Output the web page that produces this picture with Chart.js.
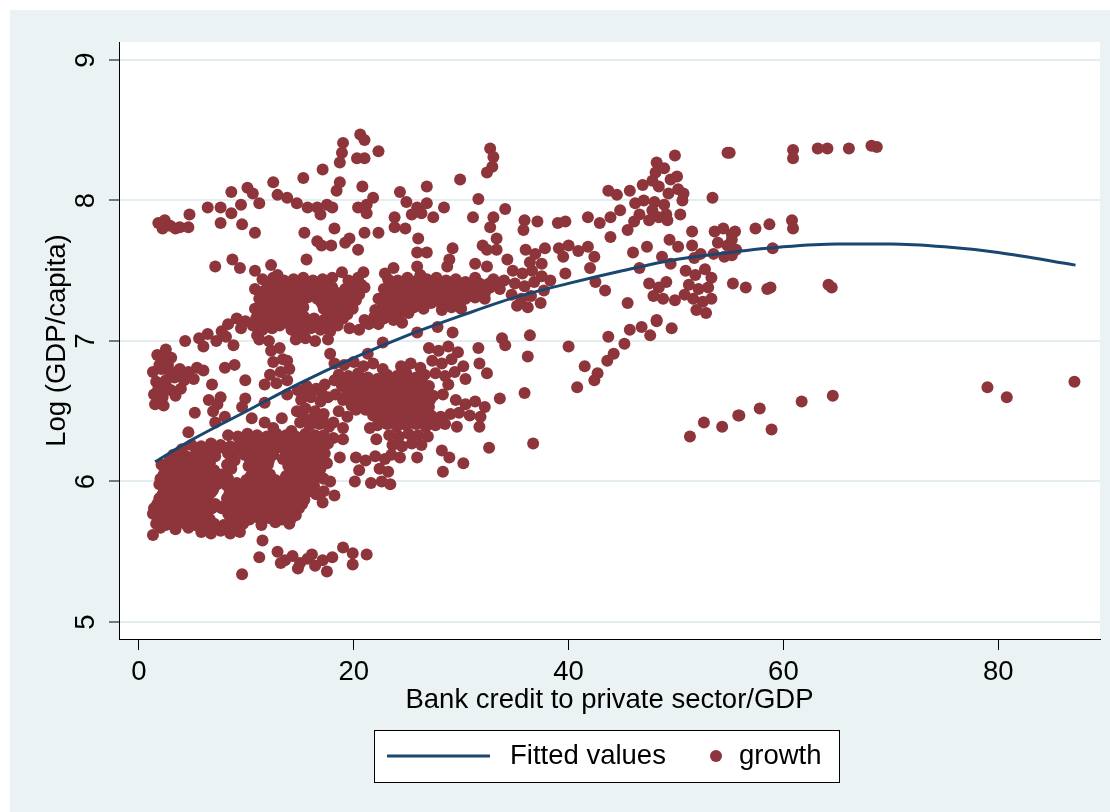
<!DOCTYPE html>
<html lang="en">
<head>
<meta charset="UTF-8">
<title>Log GDP per capita and bank credit</title>
<script src="https://cdn.jsdelivr.net/npm/chart.js"></script>
<style>
  html, body { margin: 0; padding: 0; background: #fff; }
  #frame { position: absolute; left: 10px; top: 10px; width: 1100px; height: 802px; background: #eaf2f3; }
</style>
</head>
<body>
<div id="frame"><canvas id="chart" width="1100" height="802"></canvas></div>
<script>
// fitted quadratic
const fitX = [1.5, 5, 10, 15, 20, 25, 30, 35, 40, 45, 50, 55, 60, 65, 70, 75, 80, 87.2];
const fitY = [6.14, 6.30, 6.50, 6.70, 6.88, 7.04, 7.18, 7.31, 7.41, 7.50, 7.58, 7.63, 7.67, 7.69, 7.69, 7.67, 7.63, 7.54];

const xTicks = [0, 20, 40, 60, 80];
const yTicks = [5, 6, 7, 8, 9];

// growth observations [credit/GDP, log GDP per capita], grouped by area of the plot
const growthTop = [
  [1.8,7.84],[2.4,7.86],[2.9,7.82],[3.4,7.80],[3.8,7.81],[2.2,7.80],[4.7,7.90],[4.6,7.81],[6.4,7.95],[7.6,7.95],
  [8.6,8.06],[8.6,7.91],[7.6,7.84],[9.5,7.97],[10.1,8.09],[10.6,8.05],[11.2,7.98],[9.6,7.83],[10.8,7.77],[12.5,8.13],
  [12.9,8.04],[13.8,8.02],[14.7,7.98],[15.3,8.16],[17.1,8.22],[15.7,7.95],[16.6,7.95],[16.9,7.90],[15.4,7.77],[16.6,7.71],
  [17.0,7.68],[15.6,7.58],[7.1,7.53],[8.7,7.58],[9.4,7.52],[10.8,7.50],[12.3,7.54],[12.9,7.47],
  [20.6,8.47],[21.0,8.43],[19.0,8.41],[18.9,8.34],[22.3,8.35],[20.3,8.30],[21.0,8.30],[18.7,8.27],[18.7,8.13],[18.4,8.07],
  [20.8,8.10],[24.3,8.06],[26.8,8.10],[29.9,8.15],[32.7,8.37],[33.0,8.31],[32.9,8.24],[32.4,8.20],[21.8,8.02],[21.2,7.97],
  [20.4,7.95],[21.2,7.91],[17.5,7.97],[18.0,7.95],[24.9,7.99],[25.9,7.95],[26.8,7.98],[25.4,7.90],[23.8,7.88],[23.8,7.81],
  [24.8,7.80],[26.3,7.91],[27.4,7.88],[28.4,7.95],[31.6,8.01],[31.1,7.88],[33.0,7.88],[34.1,7.94],[32.7,7.81],[18.2,7.80],
  [19.6,7.73],[19.2,7.70],[21.0,7.77],[22.3,7.77],[20.4,7.65],[26.0,7.73],[25.9,7.63],[26.8,7.63],[17.9,7.68],[29.2,7.66],
  [28.9,7.58],[28.7,7.53],[32.0,7.68],[32.4,7.65],[33.3,7.73],[33.3,7.65],[34.3,7.58],[31.3,7.55],[32.4,7.53],[18.9,7.49],
  [20.9,7.49],[22.9,7.48],[23.7,7.52],[25.9,7.53],[26.2,7.47]
];

const growthLeft = [
  [1.7,6.90],[2.5,6.94],[3.0,6.88],[2.1,6.87],[1.3,6.78],[2.1,6.80],[2.9,6.77],[1.6,6.71],[2.5,6.72],[3.3,6.74],
  [1.4,6.62],[2.2,6.60],[1.5,6.55],[2.3,6.54],[3.8,6.80],[4.6,6.78],[5.4,6.81],[6.0,6.79],[4.2,6.72],[5.1,6.73],
  [3.0,6.65],[3.9,6.66],[3.4,6.61],[5.2,6.49],[6.8,6.69],[6.5,6.58],[7.3,6.55],[6.9,6.50],[7.6,6.60],[8.0,6.81],
  [8.9,6.83],[4.3,7.00],[5.6,7.02],[6.4,7.05],[7.2,7.00],[8.1,7.03],[8.8,6.97],[6.0,6.96],[7.7,7.07],[8.3,7.12],
  [9.1,7.16],[9.9,7.14],[10.6,7.11],[9.5,7.09],[11.1,7.17],[11.0,7.04],[9.9,6.72],[11.7,6.69],[9.9,6.59],[9.6,6.53],
  [11.7,6.56],[13.8,6.62],[10.5,6.45],[11.7,6.42],[13.3,6.45],[8.0,6.46],[7.1,6.42],
  [12.3,6.93],[13.1,6.95],[12.5,6.85],[13.4,6.87],[14.0,6.80],[12.2,6.76],[13.2,6.78],[12.8,6.70],[13.8,6.72],[13.8,6.86],
  [14.8,6.65],[15.6,6.68],[16.5,6.66],[17.3,6.69],[15.1,6.58],[16.0,6.60],[16.9,6.57],[17.6,6.60],[14.7,6.50],[15.5,6.52],
  [16.4,6.50],[17.2,6.48],[15.0,6.42],[15.9,6.40],[16.8,6.41],[17.7,6.39],
  [1.9,6.83],[2.7,6.83],[3.5,6.78],[4.3,6.76],[1.8,6.66],[2.6,6.67],[1.9,6.58],
  [15.2,6.62],[16.1,6.64],[17.0,6.63],[15.3,6.46],[16.2,6.45],[17.1,6.44]
];

const growthMiddle = [
  [11.5,7.44],[12.5,7.45],[13.5,7.43],[14.4,7.44],[15.3,7.45],[16.2,7.43],[17.1,7.44],[18.0,7.45],[19.5,7.43],[20.4,7.45],
  [23.2,7.44],[24.1,7.43],[25.0,7.45],[25.9,7.43],[26.8,7.44],[27.7,7.45],[28.6,7.43],[29.5,7.44],[30.4,7.42],[31.3,7.45],
  [33.0,7.44],[34.0,7.43],
  [12.0,7.41],[12.9,7.41],[13.8,7.40],[14.7,7.41],[15.6,7.41],[16.5,7.40],[17.4,7.41],[19.8,7.41],[20.7,7.40],[23.6,7.41],
  [24.5,7.41],[25.4,7.40],[26.3,7.41],[27.2,7.41],[28.1,7.40],[29.0,7.41],[29.9,7.41],[30.8,7.40],[31.7,7.41],[32.6,7.41],
  [33.5,7.40],
  [10.8,7.37],[11.7,7.36],[12.6,7.38],[13.5,7.37],[14.4,7.36],[15.3,7.38],[16.2,7.37],[17.1,7.36],[18.0,7.38],[19.2,7.37],
  [20.1,7.36],[21.0,7.38],[22.8,7.37],[23.7,7.36],[24.6,7.38],[25.5,7.37],[26.4,7.36],[27.3,7.38],[28.2,7.37],[29.1,7.36],
  [30.0,7.38],[30.9,7.37],[31.8,7.36],[32.7,7.38],[33.6,7.37],
  [11.3,7.34],[12.2,7.33],[13.1,7.34],[14.0,7.34],[14.9,7.33],[15.8,7.34],[16.7,7.34],[17.6,7.33],[18.6,7.34],[19.6,7.34],
  [20.5,7.33],[23.2,7.34],[24.1,7.34],[25.0,7.33],[25.9,7.34],[26.8,7.34],[27.7,7.33],[28.6,7.34],[29.5,7.34],[30.4,7.33],
  [31.3,7.34],[32.2,7.34],
  [11.2,7.30],[12.1,7.29],[13.0,7.31],[13.9,7.30],[14.8,7.29],[15.7,7.31],[16.6,7.30],[17.5,7.29],[18.4,7.31],[19.3,7.30],
  [20.2,7.29],[22.3,7.30],[23.2,7.31],[24.1,7.29],[25.0,7.30],[25.9,7.31],[26.8,7.29],[27.7,7.30],[28.6,7.31],[29.5,7.29],
  [30.4,7.30],[31.3,7.31],[32.2,7.30],
  [11.6,7.27],[12.5,7.26],[13.4,7.27],[14.3,7.27],[15.2,7.26],[17.0,7.27],[17.9,7.27],[18.8,7.26],[19.7,7.27],[22.7,7.27],
  [23.6,7.26],[24.5,7.27],[25.4,7.27],[26.3,7.26],[27.2,7.27],[28.1,7.27],[29.0,7.26],[29.9,7.27],
  [10.8,7.23],[11.7,7.22],[12.6,7.24],[13.5,7.23],[14.4,7.22],[15.3,7.24],[17.2,7.23],[18.1,7.22],[19.0,7.24],[19.9,7.23],
  [22.0,7.22],[22.9,7.24],[23.8,7.23],[24.7,7.22],[25.6,7.24],[26.5,7.23],[28.2,7.22],[29.1,7.24],[30.0,7.23],
  [11.2,7.20],[12.1,7.19],[13.0,7.20],[13.9,7.20],[14.8,7.19],[17.6,7.20],[18.5,7.20],[19.4,7.19],[22.4,7.20],[23.3,7.20],
  [24.2,7.19],[25.1,7.20],
  [10.9,7.16],[11.8,7.15],[12.7,7.17],[13.6,7.16],[14.5,7.15],[15.4,7.17],[16.3,7.16],[17.2,7.15],[18.1,7.17],[19.0,7.16],
  [21.0,7.15],[21.9,7.17],[22.8,7.16],[23.7,7.15],
  [11.3,7.12],[12.2,7.12],[13.1,7.11],[14.0,7.12],[14.9,7.12],[15.8,7.11],[16.7,7.12],[17.6,7.12],[18.5,7.11],[21.4,7.12],
  [22.3,7.12],
  [11.5,7.08],[12.4,7.09],[14.2,7.08],[15.1,7.07],[16.0,7.09],[16.9,7.08],[17.8,7.07],[19.6,7.09],[20.5,7.08],
  [11.2,7.01],[12.1,7.00],[14.6,7.01],[15.5,7.02],[16.4,7.00],[17.6,7.01]
];

const growthLower = [
  [29.2,7.06],[25.9,7.06],[27.8,7.10],[24.5,7.13],[33.8,7.02],[34.1,6.97],[31.6,6.95],[22.7,6.99],[21.3,6.91],[17.8,6.91],
  [31.7,6.84],[32.4,6.77],[33.6,6.59],
  [27.0,6.95],[27.9,6.93],[28.8,6.96],[29.7,6.92],[27.3,6.86],[28.2,6.84],[29.1,6.87],[30.2,6.82],[27.6,6.77],[28.5,6.75],
  [29.4,6.78],[30.4,6.73],
  [18.2,6.84],[19.1,6.83],[20.0,6.85],[20.9,6.82],[21.8,6.84],[22.7,6.80],[18.6,6.76],[19.5,6.75],[20.4,6.77],[21.3,6.74],
  [22.2,6.73],[23.1,6.76],[24.0,6.75],[24.9,6.77],[25.8,6.74],[26.6,6.76],[24.4,6.82],[25.3,6.84],[26.2,6.81],
  [18.2,6.72],[19.1,6.71],[20.0,6.72],[20.9,6.72],[21.8,6.71],[22.7,6.72],[23.6,6.72],[24.5,6.71],[25.4,6.72],[26.3,6.72],
  [18.9,6.68],[19.8,6.69],[20.7,6.67],[21.6,6.68],[22.5,6.69],[23.4,6.67],[24.3,6.68],[25.2,6.69],[26.1,6.67],[27.0,6.68],
  [19.4,6.65],[20.3,6.65],[21.2,6.64],[22.1,6.65],[23.0,6.65],[23.9,6.64],[24.8,6.65],[25.7,6.65],[26.6,6.64],
  [19.3,6.61],[20.2,6.62],[21.1,6.60],[22.0,6.61],[22.9,6.62],[23.8,6.60],[24.7,6.61],[25.6,6.62],[26.5,6.60],[27.4,6.61],
  [19.0,6.58],[19.9,6.58],[20.8,6.57],[21.7,6.58],[22.6,6.58],[23.5,6.57],[24.4,6.58],[25.3,6.58],[26.2,6.57],[27.1,6.58],
  [19.8,6.54],[20.7,6.55],[21.6,6.53],[22.5,6.54],[23.4,6.55],[24.3,6.53],[25.2,6.54],[26.1,6.55],[27.0,6.53],
  [20.2,6.51],[21.1,6.51],[22.0,6.50],[22.9,6.51],[23.8,6.51],[24.7,6.50],[25.6,6.51],[26.5,6.51],
  [28.3,6.62],[28.8,6.69],[29.5,6.58],[30.4,6.55],[31.3,6.57],[32.2,6.53],[29.8,6.49],[30.8,6.47],[31.8,6.46],
  [18.3,6.62],[18.6,6.50],[19.4,6.46],[18.1,6.42],[19.0,6.38],
  [21.8,6.47],[22.7,6.46],[23.6,6.48],[24.5,6.47],[25.4,6.46],[26.3,6.48],[27.2,6.47],[28.1,6.46],[29.0,6.48],
  [22.3,6.44],[23.2,6.44],[24.1,6.43],[25.0,6.44],[25.9,6.44],[26.8,6.43],[27.7,6.44],
  [22.2,6.40],[23.1,6.41],[24.0,6.39],[24.9,6.40],[25.8,6.41],[26.7,6.39],[27.6,6.40],[28.5,6.41],[29.6,6.39],
  [17.2,6.33],[18.1,6.31],[19.0,6.30],[17.6,6.27],
  [20.2,6.17],[21.1,6.15],[22.0,6.18],[22.9,6.16],[23.5,6.19],[20.5,6.08],[22.4,6.09],[23.2,6.07],[20.1,6.00],[21.6,5.99],
  [22.6,6.00],[23.4,5.98],[21.5,6.38],[22.1,6.30],
  [23.3,6.33],[24.2,6.32],[25.1,6.34],[26.0,6.33],[26.9,6.32],[23.6,6.26],[24.5,6.25],[25.4,6.27],[26.3,6.26],
  [24.3,6.17],[25.9,6.17],[28.2,6.22],[28.9,6.17],[28.3,6.07],[30.2,6.13],[31.7,6.39],[32.6,6.24],[18.7,6.17],
  [17.0,6.03],[17.8,6.00],[17.2,5.93],[18.2,5.90],[17.1,5.85],
  [17.5,5.36],[18.0,5.46],[19.0,5.53],[19.9,5.49],[19.9,5.41],[21.2,5.48]
];

const growthBottom = [
  [12.5,6.38],[14.2,6.36],[4.6,6.35],[3.6,6.20],[2.7,6.13],
  [8.3,6.33],[9.2,6.32],[10.1,6.34],[11.0,6.33],[11.9,6.32],[12.8,6.34],[13.7,6.33],[14.6,6.32],[15.5,6.34],[16.4,6.33],
  [9.6,6.30],[10.5,6.30],[11.4,6.29],[12.3,6.30],[13.2,6.30],[14.1,6.29],[15.0,6.30],[15.9,6.30],[16.8,6.29],
  [4.9,6.26],[5.8,6.25],[6.7,6.27],[7.6,6.26],[8.5,6.25],[9.4,6.27],[10.3,6.26],[11.2,6.25],[12.1,6.27],[13.0,6.26],
  [13.9,6.25],[14.8,6.27],[15.7,6.26],[16.6,6.25],
  [4.0,6.23],[5.5,6.23],[6.3,6.22],[7.2,6.23],[8.1,6.23],[9.0,6.22],[9.9,6.23],[10.8,6.23],[11.7,6.22],[12.6,6.23],
  [13.5,6.23],[14.4,6.22],[15.3,6.23],[16.2,6.23],[17.1,6.22],
  [3.2,6.19],[4.4,6.18],[5.3,6.20],[6.2,6.19],[7.1,6.18],[8.3,6.20],[9.8,6.19],[10.7,6.18],[11.6,6.20],[12.5,6.19],
  [13.8,6.18],[14.7,6.20],[15.6,6.19],[16.5,6.18],[17.3,6.20],
  [2.9,6.16],[3.8,6.16],[4.7,6.15],[5.6,6.16],[6.5,6.16],[8.9,6.15],[10.3,6.16],[11.2,6.16],[12.1,6.15],[13.4,6.16],
  [14.3,6.16],[15.2,6.15],[16.1,6.16],[17.0,6.16],
  [2.1,6.12],[3.0,6.11],[3.9,6.13],[4.8,6.12],[5.7,6.11],[6.6,6.13],[8.2,6.12],[10.2,6.11],[11.1,6.13],[12.0,6.12],
  [13.9,6.11],[14.8,6.13],[15.7,6.12],[16.6,6.11],[17.5,6.13],
  [2.5,6.09],[3.4,6.09],[4.3,6.08],[5.2,6.09],[6.1,6.09],[7.0,6.08],[8.6,6.09],[10.6,6.09],[11.5,6.08],[14.2,6.09],
  [15.1,6.09],[16.0,6.08],[16.9,6.09],
  [2.3,6.05],[3.2,6.04],[4.1,6.06],[5.0,6.05],[5.9,6.04],[6.8,6.06],[7.7,6.05],[10.4,6.04],[11.3,6.06],[12.2,6.05],
  [13.7,6.04],[14.6,6.06],[15.5,6.05],[16.4,6.04],
  [2.0,6.02],[2.9,6.02],[3.8,6.01],[4.7,6.02],[5.6,6.02],[6.5,6.01],[7.4,6.02],[8.3,6.02],[10.0,6.01],[10.9,6.02],
  [11.8,6.02],[12.7,6.01],[13.6,6.02],[14.5,6.02],[15.4,6.01],[16.3,6.02],[17.2,6.02],
  [1.9,5.98],[2.8,5.97],[3.7,5.99],[4.6,5.98],[5.5,5.97],[6.4,5.99],[7.3,5.98],[8.2,5.97],[9.1,5.99],[10.0,5.98],
  [10.9,5.97],[11.8,5.99],[12.7,5.98],[13.6,5.97],[14.5,5.99],[15.4,5.98],[16.3,5.97],
  [2.4,5.95],[3.3,5.95],[4.2,5.94],[5.1,5.95],[6.0,5.95],[6.9,5.94],[8.6,5.95],[9.5,5.95],[10.4,5.94],[11.3,5.95],
  [12.2,5.95],[13.1,5.94],[14.0,5.95],[14.9,5.95],[15.8,5.94],
  [2.2,5.91],[3.1,5.90],[4.0,5.92],[4.9,5.91],[5.8,5.90],[6.7,5.92],[8.4,5.91],[9.3,5.90],[10.2,5.92],[11.1,5.91],
  [12.0,5.90],[12.9,5.92],[13.8,5.91],[14.7,5.90],[15.6,5.92],[16.5,5.91],
  [1.9,5.88],[2.8,5.88],[3.7,5.87],[4.6,5.88],[5.5,5.88],[6.4,5.87],[8.2,5.88],[9.1,5.88],[10.0,5.87],[10.9,5.88],
  [11.8,5.88],[12.7,5.87],[13.6,5.88],[14.5,5.88],[15.4,5.87],
  [1.7,5.84],[2.6,5.83],[3.5,5.85],[4.4,5.84],[5.3,5.83],[6.2,5.85],[7.1,5.84],[8.0,5.83],[8.9,5.85],[9.8,5.84],
  [10.7,5.83],[11.6,5.85],[12.5,5.84],[13.4,5.83],[14.3,5.85],[15.2,5.84],
  [1.4,5.81],[2.3,5.81],[3.2,5.80],[4.1,5.81],[5.0,5.81],[5.9,5.80],[6.8,5.81],[7.7,5.81],[8.6,5.80],[9.5,5.81],
  [10.4,5.81],[11.3,5.80],[12.2,5.81],[13.1,5.81],[14.0,5.80],[14.9,5.81],
  [1.3,5.77],[1.9,5.77],[2.8,5.76],[3.7,5.78],[4.6,5.77],[5.5,5.76],[6.4,5.78],[8.3,5.77],[9.2,5.76],[10.1,5.78],
  [11.0,5.77],[11.9,5.76],[12.8,5.78],[13.7,5.77],[14.6,5.76],
  [2.1,5.74],[3.0,5.74],[3.9,5.73],[4.8,5.74],[5.7,5.74],[6.6,5.73],[8.5,5.74],[9.4,5.74],[10.3,5.73],[11.2,5.74],
  [12.1,5.74],[13.3,5.73],[14.2,5.74],
  [1.6,5.70],[2.5,5.69],[3.4,5.71],[4.3,5.70],[5.2,5.69],[6.1,5.71],[7.0,5.70],[7.9,5.69],[8.8,5.71],[9.7,5.70],
  [11.4,5.69],[12.7,5.71],[14.0,5.70],
  [2.0,5.67],[4.6,5.67],[6.3,5.66],[7.2,5.67],[8.1,5.67],[9.0,5.66],
  [1.3,5.62],[3.4,5.66],[5.8,5.64],[6.7,5.63],[7.6,5.65],[8.5,5.63],[9.4,5.64],
  [11.5,5.58],[11.2,5.46],[9.6,5.34],
  [12.9,5.50],[13.6,5.44],[14.3,5.47],[15.0,5.42],[15.7,5.45],[16.4,5.40],[17.1,5.44],[13.2,5.42],[14.8,5.38],[16.1,5.48]
];

const growthRight = [
  [48.2,8.27],[49.9,8.32],[54.8,8.34],[48.1,8.20],[48.9,8.23],[49.5,8.15],[48.4,8.10],[49.3,8.05],[50.2,8.08],[48.0,7.99],
  [48.9,7.97],[50.6,8.00],[47.8,8.14],[50.1,8.17],[50.7,8.05],[53.4,8.02],[43.7,8.07],[44.5,8.04],[45.7,8.07],[46.9,8.11],
  [46.2,7.98],[47.0,8.00],[47.8,7.93],[46.6,7.90],[47.5,7.86],[48.4,7.88],[49.1,7.90],[46.1,7.85],
  [44.8,7.93],[43.9,7.88],[42.9,7.84],[41.8,7.88],[50.4,7.90],[49.2,7.86],[35.9,7.86],[37.1,7.85],[39.0,7.84],[39.7,7.85],
  [35.8,7.79],[43.9,7.74],[45.5,7.79],[51.5,7.78],
  [53.6,7.78],[54.4,7.80],[55.2,7.76],[53.9,7.70],[54.8,7.68],[55.6,7.65],[53.5,7.62],[54.5,7.60],
  [49.4,7.72],[50.2,7.67],[51.5,7.68],[52.3,7.62],[51.7,7.59],[47.3,7.67],[46.0,7.63],[48.7,7.60],[49.5,7.55],
  [36.0,7.65],[36.9,7.62],[37.8,7.66],[36.4,7.56],[37.5,7.55],
  [39.1,7.66],[40.0,7.68],[40.9,7.64],[41.8,7.67],[42.4,7.60],[39.5,7.60],
  [34.8,7.50],[35.7,7.48],[36.6,7.50],[37.5,7.46],[38.3,7.43],[35.0,7.41],[35.9,7.39],[36.8,7.42],[37.7,7.36],[34.7,7.33],
  [35.6,7.30],[36.5,7.32],[37.4,7.27],[35.2,7.25],[36.2,7.24],
  [39.7,7.48],[42.0,7.52],[42.5,7.42],[43.4,7.36],[46.6,7.52],
  [47.5,7.41],[48.4,7.38],[49.1,7.42],[47.9,7.32],[48.8,7.30],
  [50.9,7.50],[51.8,7.47],[52.7,7.51],[53.3,7.45],[51.2,7.40],[52.1,7.37],[53.0,7.38],[51.6,7.30],[52.5,7.28],[53.3,7.30],
  [51.9,7.22],[52.8,7.20],[50.8,7.33],
  [45.5,7.27],[49.9,7.29],[48.2,7.15],[49.6,7.09],[45.7,7.08],[46.8,7.10],[47.6,7.04],[36.4,7.04],[43.7,7.03],[55.3,7.41],
  [36.2,6.89],[35.9,6.63],[36.7,6.27],[40.0,6.96],[40.8,6.67],[41.5,6.82],[42.4,6.72],[42.7,6.77],[43.6,6.86],[44.2,6.91],
  [45.2,6.98],[48.2,7.14],
  [51.3,6.32],[52.6,6.42],[54.3,6.39],[55.8,6.47],
  [55.0,8.34],[60.9,8.36],[60.9,8.30],[63.2,8.37],[64.1,8.37],[66.1,8.37],[68.2,8.39],[68.7,8.38],
  [55.5,7.78],[55.2,7.72],[57.4,7.80],[58.7,7.83],[60.8,7.86],[60.9,7.80],[59.0,7.66],[55.2,7.61],
  [56.5,7.38],[58.5,7.37],[58.8,7.38],[64.2,7.40],[64.5,7.38],
  [55.9,6.47],[57.8,6.52],[58.9,6.37],[61.7,6.57],[64.6,6.61],[79.0,6.67],[80.8,6.60],[87.1,6.71]
];

const FONT_FAMILY = "'Liberation Sans', Arial, sans-serif";
const FONT_SIZE = 27.5;
const LINE_COLOR = '#1a476f';
const DOT_COLOR = '#8e343b';
const DOT_R = 6;

const pairs = arr => arr.map(p => ({x: p[0], y: p[1]}));
const growthData = [].concat(
  pairs(growthTop), pairs(growthLeft), pairs(growthMiddle),
  pairs(growthLower), pairs(growthBottom), pairs(growthRight)
);
const fitData = fitX.map((x, i) => ({x: x, y: fitY[i]}));

// white plot region, rotated y labels and the boxed legend (Stata style)
const stataFrame = {
  id: 'stataFrame',
  beforeDraw(chart) {
    const {ctx, chartArea: a} = chart;
    ctx.save();
    ctx.fillStyle = '#ffffff';
    ctx.fillRect(a.left, a.top, a.right - a.left, a.bottom - a.top);
    ctx.restore();
  },
  afterDraw(chart) {
    const {ctx, chartArea: a} = chart;
    const ys = chart.scales.y;
    ctx.save();
    ctx.font = FONT_SIZE + 'px ' + FONT_FAMILY;
    ctx.fillStyle = '#000';
    ctx.textAlign = 'center';
    ctx.textBaseline = 'middle';
    ys.ticks.forEach(t => {
      const py = ys.getPixelForValue(t.value);
      ctx.save();
      ctx.translate(a.left - 33, py);
      ctx.rotate(-Math.PI / 2);
      ctx.fillText(String(t.value), 0, 0);
      ctx.restore();
    });

    // legend box
    const cx = (a.left + a.right) / 2;
    const bx = Math.round(cx - 235.5), by = Math.round(a.bottom + 91);
    const my = by + 26;
    ctx.fillStyle = '#fff';
    ctx.fillRect(bx, by, 465, 52);
    ctx.strokeStyle = '#000';
    ctx.lineWidth = 1;
    ctx.strokeRect(bx + 0.5, by + 0.5, 465, 52);

    const ds = chart.data.datasets;
    ctx.strokeStyle = LINE_COLOR;
    ctx.lineWidth = 3;
    ctx.beginPath();
    ctx.moveTo(bx + 13, my);
    ctx.lineTo(bx + 116, my);
    ctx.stroke();
    ctx.fillStyle = DOT_COLOR;
    ctx.beginPath();
    ctx.arc(bx + 342, my, DOT_R, 0, Math.PI * 2);
    ctx.fill();
    ctx.fillStyle = '#000';
    ctx.textAlign = 'left';
    ctx.fillText(ds[0].label, bx + 136, my);
    ctx.fillText(ds[1].label, bx + 365, my);
    ctx.restore();
  }
};

new Chart(document.getElementById('chart'), {
  type: 'scatter',
  data: {
    datasets: [
      {
        label: 'Fitted values',
        data: fitData,
        showLine: true,
        borderColor: LINE_COLOR,
        borderWidth: 3,
        pointRadius: 0,
        pointHoverRadius: 0,
        cubicInterpolationMode: 'monotone'
      },
      {
        label: 'growth',
        data: growthData,
        backgroundColor: DOT_COLOR,
        borderWidth: 0,
        pointRadius: DOT_R,
        pointHoverRadius: DOT_R
      }
    ]
  },
  options: {
    responsive: false,
    animation: false,
    devicePixelRatio: 1,
    layout: { padding: { top: 32, right: 10, bottom: 95, left: 0 } },
    plugins: { legend: { display: false }, tooltip: { enabled: false } },
    scales: {
      x: {
        type: 'linear',
        min: -1.86,
        max: 89.48,
        afterBuildTicks: s => { s.ticks = xTicks.map(v => ({value: v})); },
        afterFit: s => { s.height = 78; },
        grid: { drawOnChartArea: false, drawTicks: true, tickLength: 11, tickColor: '#000', tickWidth: 1 },
        border: { display: true, color: '#000', width: 1 },
        ticks: { color: '#000', padding: 6, maxRotation: 0, font: { family: FONT_FAMILY, size: FONT_SIZE } },
        title: { display: true, text: 'Bank credit to private sector/GDP', color: '#000',
                 padding: { top: 0, bottom: 0 }, font: { family: FONT_FAMILY, size: FONT_SIZE } }
      },
      y: {
        type: 'linear',
        min: 4.879,
        max: 9.128,
        afterBuildTicks: s => { s.ticks = yTicks.map(v => ({value: v})); },
        afterFit: s => { s.width = 109; },
        grid: { color: '#e4eef0', lineWidth: 2, drawTicks: true, tickLength: 10, tickColor: '#000', tickWidth: 1 },
        border: { display: true, color: '#000', width: 1 },
        ticks: { display: false },
        title: { display: true, text: 'Log (GDP/capita)', color: '#000',
                 padding: { top: 30.5, bottom: 0 }, font: { family: FONT_FAMILY, size: FONT_SIZE } }
      }
    }
  },
  plugins: [stataFrame]
});
</script>
</body>
</html>
